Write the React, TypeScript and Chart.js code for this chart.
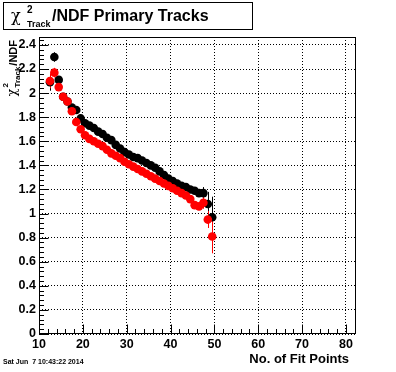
import React, { useEffect, useRef } from "react";
import { Chart, registerables } from "chart.js";

Chart.register(...registerables);

// ---- data ----
const binCenters = [
  12.5, 13.5, 14.5, 15.5, 16.5, 17.5, 18.5, 19.5, 20.5, 21.5,
  22.5, 23.5, 24.5, 25.5, 26.5, 27.5, 28.5, 29.5, 30.5, 31.5,
  32.5, 33.5, 34.5, 35.5, 36.5, 37.5, 38.5, 39.5, 40.5, 41.5,
  42.5, 43.5, 44.5, 45.5, 46.5, 47.5, 48.5, 49.5,
];
const blackValues = [
  2.09, 2.30, 2.11, 1.97, 1.93, 1.88, 1.86, 1.79, 1.75, 1.73,
  1.71, 1.68, 1.66, 1.63, 1.61, 1.57, 1.54, 1.51, 1.49, 1.47,
  1.46, 1.44, 1.42, 1.40, 1.38, 1.35, 1.32, 1.29, 1.27, 1.25,
  1.23, 1.22, 1.20, 1.19, 1.17, 1.17, 1.08, 0.97,
];
const blackErrors = [
  0.07, 0.04, 0.03, 0.02, 0.02, 0.02, 0.02, 0.02, 0.01, 0.01,
  0.01, 0.01, 0.01, 0.01, 0.01, 0.01, 0.01, 0.01, 0.01, 0.01,
  0.01, 0.01, 0.01, 0.01, 0.01, 0.01, 0.01, 0.01, 0.01, 0.01,
  0.01, 0.01, 0.01, 0.02, 0.03, 0.05, 0.10, 0.17,
];
const redValues = [
  2.10, 2.17, 2.05, 1.97, 1.93, 1.85, 1.76, 1.70, 1.65, 1.62,
  1.60, 1.58, 1.56, 1.53, 1.50, 1.48, 1.46, 1.43, 1.41, 1.39,
  1.37, 1.35, 1.33, 1.31, 1.29, 1.27, 1.25, 1.23, 1.21, 1.19,
  1.17, 1.15, 1.12, 1.07, 1.06, 1.09, 0.95, 0.81,
];
const redErrors = [
  0.06, 0.04, 0.03, 0.02, 0.02, 0.02, 0.02, 0.02, 0.01, 0.01,
  0.01, 0.01, 0.01, 0.01, 0.01, 0.01, 0.01, 0.01, 0.01, 0.01,
  0.01, 0.01, 0.01, 0.01, 0.01, 0.01, 0.01, 0.01, 0.01, 0.01,
  0.01, 0.01, 0.01, 0.02, 0.03, 0.05, 0.07, 0.14,
];
const xTickValues = [10, 20, 30, 40, 50, 60, 70, 80];
const yTickValues = [0, 0.2, 0.4, 0.6, 0.8, 1, 1.2, 1.4, 1.6, 1.8, 2, 2.2, 2.4];
const titleMain = "/NDF Primary Tracks";
const xTitle = "No. of Fit Points";
const dateText = "Sat Jun  7 10:43:22 2014";

const X_MIN = 10;
const X_MAX = 82.3;
const Y_MIN = 0;
const Y_MAX = 2.466;
const X_MINOR = 2;
const Y_MINOR = 0.04;

const SANS = '"Liberation Sans", Arial, sans-serif';
const SERIF = '"DejaVu Serif", "Liberation Serif", serif';

const errorBarPlugin = {
  id: "errorBars",
  beforeDatasetsDraw(chart: any) {
    const ctx = chart.ctx;
    const yScale = chart.scales.y;
    const sets = [
      { idx: 1, errs: blackErrors, vals: blackValues, color: "#000" },
      { idx: 0, errs: redErrors, vals: redValues, color: "#ff0000" },
    ];
    ctx.save();
    ctx.lineWidth = 1;
    for (const s of sets) {
      const meta = chart.getDatasetMeta(s.idx);
      ctx.strokeStyle = s.color;
      meta.data.forEach((pt: any, i: number) => {
        const x = Math.round(pt.x) + 0.5;
        const y1 = yScale.getPixelForValue(s.vals[i] + s.errs[i]);
        const y2 = yScale.getPixelForValue(s.vals[i] - s.errs[i]);
        ctx.beginPath();
        ctx.moveTo(x, y1);
        ctx.lineTo(x, y2);
        ctx.stroke();
      });
    }
    ctx.restore();
  },
};

const framePlugin = {
  id: "rootFrame",
  afterDraw(chart: any) {
    const ctx = chart.ctx;
    const a = chart.chartArea;
    const xs = chart.scales.x;
    const ys = chart.scales.y;
    ctx.save();
    ctx.strokeStyle = "#000";
    ctx.lineWidth = 1;
    // frame
    ctx.strokeRect(Math.round(a.left) + 0.5, Math.round(a.top) + 0.5,
      Math.round(a.right - a.left) - 1, Math.round(a.bottom - a.top) - 1);
    // x ticks (inside, from bottom)
    const bottom = Math.round(a.bottom) - 0.5;
    ctx.beginPath();
    for (let v = X_MIN; v <= X_MAX + 1e-9; v += X_MINOR) {
      const px = Math.round(xs.getPixelForValue(v)) + 0.5;
      const major = Math.abs(v / 10 - Math.round(v / 10)) < 1e-6;
      ctx.moveTo(px, bottom);
      ctx.lineTo(px, bottom - (major ? 9 : 4.5));
    }
    // y ticks (inside, from left)
    const left = Math.round(a.left) + 0.5;
    for (let k = 0; k * Y_MINOR <= Y_MAX + 1e-9; k++) {
      const v = k * Y_MINOR;
      const py = Math.round(ys.getPixelForValue(v)) + 0.5;
      const major = k % 5 === 0;
      ctx.moveTo(left, py);
      ctx.lineTo(left + (major ? 9 : 4.5), py);
    }
    ctx.stroke();

    // title box
    ctx.strokeRect(3.5, 2.5, 249, 27);
    ctx.fillStyle = "#000";
    ctx.textBaseline = "alphabetic";
    ctx.textAlign = "left";
    ctx.font = `16px ${SERIF}`;
    ctx.fillText("χ", 11, 21);
    ctx.font = `bold 10px ${SANS}`;
    ctx.fillText("2", 27, 13);
    ctx.font = `bold 9px ${SANS}`;
    ctx.fillText("Track", 27, 27);
    ctx.font = `bold 16px ${SANS}`;
    ctx.fillText(titleMain, 52, 21);

    // x axis title
    ctx.font = `bold 13px ${SANS}`;
    ctx.textAlign = "right";
    ctx.fillText(xTitle, 349, 363);

    // date
    ctx.font = `bold 7px ${SANS}`;
    ctx.textAlign = "left";
    ctx.fillText(dateText, 3, 364);

    // y axis title (rotated)
    ctx.translate(17, 0);
    ctx.rotate(-Math.PI / 2);
    ctx.textAlign = "left";
    const chiFont = `13px ${SERIF}`;
    const supFont = `bold 8px ${SANS}`;
    const subFont = `bold 8px ${SANS}`;
    const ndfFont = `bold 11px ${SANS}`;
    ctx.font = chiFont;
    const wChi = ctx.measureText("χ").width;
    ctx.font = subFont;
    const wTrack = ctx.measureText("Track").width;
    ctx.font = ndfFont;
    const wNdf = ctx.measureText("/NDF").width;
    const total = wChi + 1 + wTrack + 1 + wNdf;
    let u = -40 - total;
    ctx.font = chiFont;
    ctx.fillText("χ", u, -1);
    u += wChi + 1;
    ctx.font = supFont;
    ctx.fillText("2", u, -9);
    ctx.font = subFont;
    ctx.fillText("Track", u, 3);
    u += wTrack + 1;
    ctx.font = ndfFont;
    ctx.fillText("/NDF", u, 0);
    ctx.restore();
  },
};

export default function App() {
  const canvasRef = useRef<HTMLCanvasElement | null>(null);

  useEffect(() => {
    if (!canvasRef.current) return;
    const tickFont = { family: SANS, size: 12.5, weight: "bold" as const };
    const chart = new Chart(canvasRef.current, {
      type: "scatter",
      data: {
        datasets: [
          {
            label: "red",
            data: binCenters.map((x, i) => ({ x, y: redValues[i] })),
            backgroundColor: "#ff0000",
            borderColor: "#ff0000",
            borderWidth: 0,
            pointRadius: 4.3,
            pointHoverRadius: 4.3,
          },
          {
            label: "black",
            data: binCenters.map((x, i) => ({ x, y: blackValues[i] })),
            backgroundColor: "#000000",
            borderColor: "#000000",
            borderWidth: 0,
            pointRadius: 4.3,
            pointHoverRadius: 4.3,
          },
        ],
      },
      options: {
        animation: false,
        responsive: false,
        maintainAspectRatio: false,
        devicePixelRatio: 1,
        events: [],
        layout: { padding: { top: 37, right: 40, left: 0, bottom: 0 } },
        plugins: {
          legend: { display: false },
          tooltip: { enabled: false },
          title: { display: false },
        },
        scales: {
          x: {
            type: "linear",
            min: X_MIN,
            max: X_MAX,
            afterFit: (s: any) => { s.height = 38; },
            afterBuildTicks: (s: any) => { s.ticks = xTickValues.map((v) => ({ value: v })); },
            grid: { color: "#000", lineWidth: 1, drawTicks: false },
            border: { display: false, dash: [1, 2] },
            ticks: {
              color: "#000",
              font: tickFont,
              padding: 3,
              maxRotation: 0,
              autoSkip: false,
              callback: (v: any) => String(v),
            },
          },
          y: {
            type: "linear",
            min: Y_MIN,
            max: Y_MAX,
            afterFit: (s: any) => { s.width = 39; },
            afterBuildTicks: (s: any) => { s.ticks = yTickValues.map((v) => ({ value: v })); },
            grid: { color: "#000", lineWidth: 1, drawTicks: false },
            border: { display: false, dash: [1, 2] },
            ticks: {
              color: "#000",
              font: tickFont,
              padding: 3,
              autoSkip: false,
              callback: (v: any) => String(Math.round(Number(v) * 10) / 10),
            },
          },
        },
      },
      plugins: [errorBarPlugin, framePlugin],
    });
    return () => chart.destroy();
  }, []);

  return (
    <div style={{ position: "fixed", left: 0, top: 0, width: 396, height: 372, background: "#fff" }}>
      <canvas ref={canvasRef} width={396} height={372} style={{ width: 396, height: 372, display: "block" }} />
    </div>
  );
}
